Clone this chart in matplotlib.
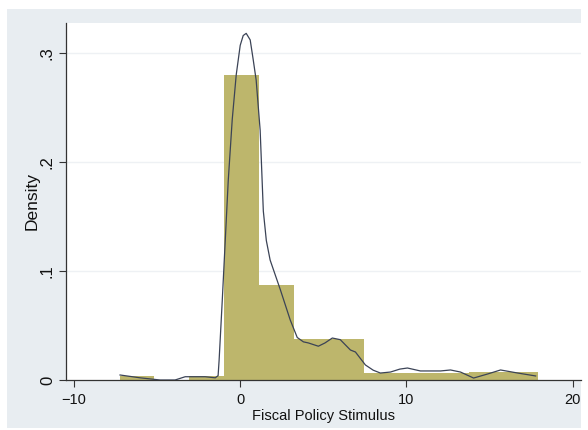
import matplotlib
matplotlib.use('Agg')
import matplotlib.pyplot as plt
from matplotlib.patches import Rectangle

plt.rcParams['font.family'] = ['Liberation Sans', 'DejaVu Sans']

# histogram bins (left edges) and densities
bin_left = [-7.26, -5.16, -3.06, -0.96, 1.14, 3.24, 5.34, 7.44, 9.54, 11.64, 13.74, 15.84]
bin_width = 2.1
density = [0.004, 0.0, 0.004, 0.280, 0.087, 0.038, 0.038, 0.006, 0.006, 0.006, 0.0075, 0.0075]

# kernel density curve
kde_x = [-7.23, -6.02, -4.82, -3.92, -3.31, -2.11, -1.5, -1.33, -1.27, -1.08, -0.9, -0.72,
         -0.48, -0.24, 0.0, 0.18, 0.36, 0.6, 0.78, 0.96, 1.2, 1.39, 1.57, 1.8, 2.41, 3.01,
         3.43, 3.8, 4.1, 4.7, 5.1, 5.54, 6.02, 6.63, 6.93, 7.53, 8.0, 8.43, 9.04, 9.6, 10.06,
         10.84, 12.05, 12.65, 13.25, 14.04, 14.88, 15.66, 16.69, 17.77]
kde_y = [0.0046, 0.002, 0.0, 0.0, 0.003, 0.003, 0.002, 0.004, 0.018, 0.073, 0.128, 0.183,
         0.239, 0.28, 0.307, 0.316, 0.318, 0.312, 0.294, 0.275, 0.229, 0.155, 0.128, 0.11,
         0.083, 0.055, 0.039, 0.035, 0.034, 0.031, 0.034, 0.0385, 0.037, 0.0275, 0.0257,
         0.0138, 0.009, 0.0064, 0.0073, 0.01, 0.011, 0.0083, 0.0083, 0.0092, 0.0073, 0.0018,
         0.0055, 0.0092, 0.0064, 0.0037]

xticks = [-10, 0, 10, 20]
yticks = [0, 0.1, 0.2, 0.3]
ytick_labels = ['0', '.1', '.2', '.3']

fig = plt.figure(figsize=(5.88, 4.3), dpi=100, facecolor='white')
# light stata-like graph region
fig.patches.append(Rectangle((7 / 588, 2 / 430), 574 / 588, 419 / 430,
                             transform=fig.transFigure, facecolor='#e8edf1',
                             edgecolor='none', zorder=0))

ax = fig.add_axes([66 / 588, 50 / 430, 515 / 588, 357 / 430])
ax.set_zorder(2)
ax.set_facecolor('white')

ax.bar(bin_left, density, width=bin_width, align='edge', color='#bdb66c',
       edgecolor='none', zorder=2)
ax.plot(kde_x, kde_y, color='#3b4356', lw=0.9, zorder=3)

ax.set_xlim(-10.48, 20.5)
ax.set_ylim(0, 0.3275)
ax.set_xticks(xticks)
ax.set_yticks(yticks)
ax.set_yticklabels(ytick_labels, rotation=90, va='center', fontsize=12)
for y in yticks[1:]:
    ax.axhline(y, color='#eef1f4', lw=1.0, zorder=1)

for s in ['top', 'right']:
    ax.spines[s].set_visible(False)
for s in ['left', 'bottom']:
    ax.spines[s].set_color('#333333')
    ax.spines[s].set_linewidth(0.9)
ax.tick_params(direction='out', length=5, width=0.8, color='#333333',
               labelcolor='#111111', pad=3)
ax.tick_params(axis='x', labelsize=10.5, pad=4)

ax.set_xlabel('Fiscal Policy Stimulus', fontsize=10.5, color='#111111', labelpad=2)
ax.set_ylabel('Density', fontsize=12.5, color='#111111', labelpad=0)

plt.savefig('out.png', dpi=100)
